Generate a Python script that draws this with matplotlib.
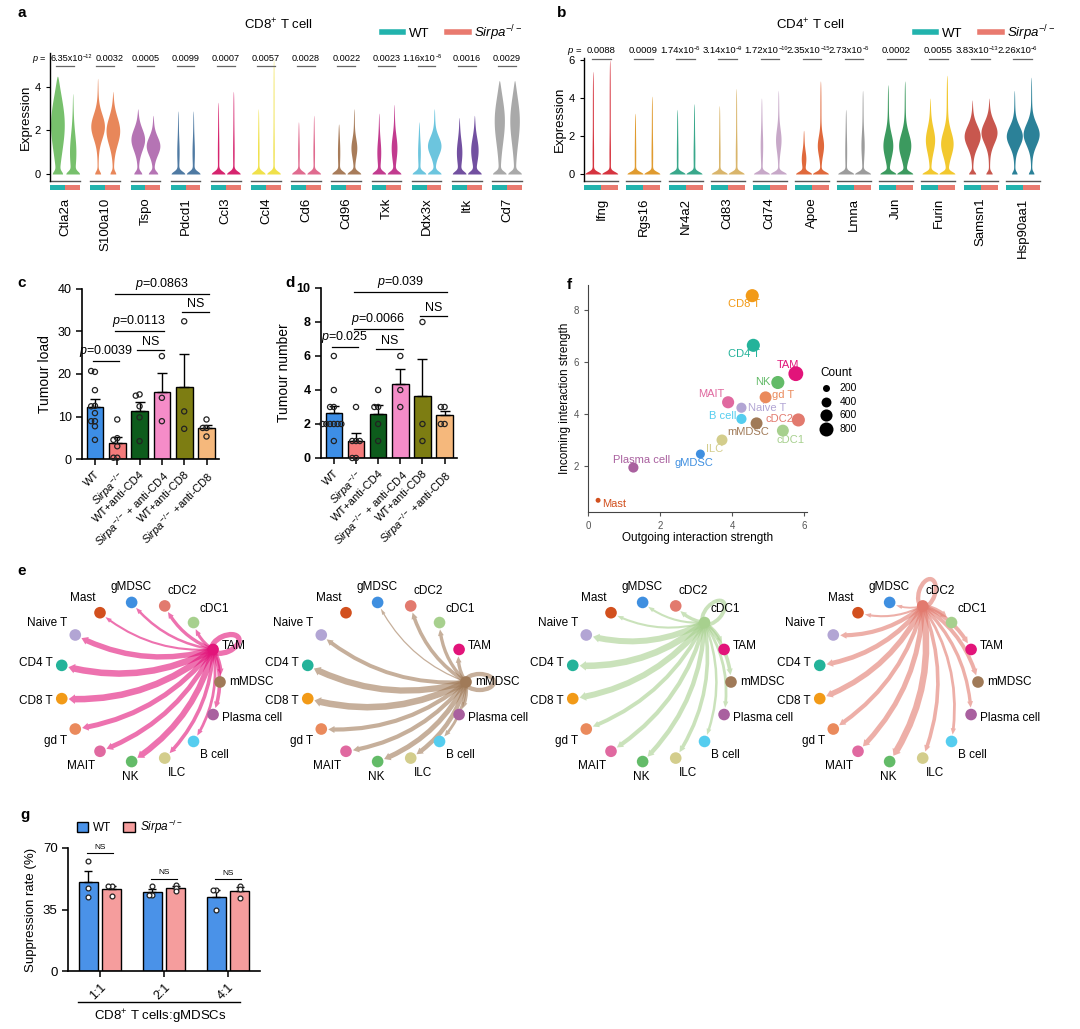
import numpy as np
import matplotlib
matplotlib.use('Agg')
import matplotlib.pyplot as plt
from matplotlib.patches import Rectangle, FancyArrowPatch, Ellipse, Patch
from matplotlib.lines import Line2D

plt.rcParams['font.family'] = ['Liberation Sans', 'DejaVu Sans']
plt.rcParams['mathtext.fontset'] = 'custom'
plt.rcParams['mathtext.rm'] = 'Liberation Sans'
plt.rcParams['mathtext.it'] = 'Liberation Sans:italic'
plt.rcParams['mathtext.bf'] = 'Liberation Sans:bold'
plt.rcParams['axes.linewidth'] = 1.0

# ---------------- data ----------------
teal, salm = '#22b3ad', '#e97a6f'
KO = r'$\mathit{Sirpa}^{-/-}$'

# panel a (CD8+ T cell)
genes_a = ['Ctla2a', 'S100a10', 'Tspo', 'Pdcd1', 'Ccl3', 'Ccl4', 'Cd6', 'Cd96', 'Txk', 'Ddx3x', 'Itk', 'Cd7']
pvals_a = ['6.35x10^-12', '0.0032', '0.0005', '0.0099', '0.0007', '0.0057', '0.0028', '0.0022',
           '0.0023', '1.16x10^-5', '0.0016', '0.0029']
colors_a = ['#77c06c', '#e8875a', '#b574b4', '#4f7aa3', '#d6246e', '#f0e14a', '#e06b8f', '#a87c5a',
            '#c23b8f', '#6cc5de', '#7250a0', '#a9a9a9']
# violin: (max, base width, bulge width, bulge centre, bulge spread)
wt_a = [(4.5, 0.5, 0.95, 2.3, 1.8), (4.4, 0.35, 0.9, 2.2, 0.8), (3.0, 0.4, 0.75, 1.6, 0.7),
        (2.9, 1.0, 0.12, 1.0, 0.8), (3.3, 1.0, 0.05, 1.0, 1.0), (3.0, 1.0, 0.05, 1.0, 1.0),
        (2.4, 1.0, 0.06, 1.0, 0.8), (2.3, 0.9, 0.1, 1.0, 0.8), (2.8, 1.0, 0.25, 1.0, 0.8),
        (2.4, 1.0, 0.15, 1.0, 0.8), (2.6, 0.9, 0.35, 1.0, 0.8), (4.3, 0.9, 0.7, 2.5, 1.5)]
ko_a = [(3.7, 0.9, 0.5, 1.0, 1.2), (3.8, 0.35, 0.95, 2.0, 0.9), (2.7, 0.45, 0.7, 1.3, 0.6),
        (2.9, 1.0, 0.12, 1.0, 0.8), (3.8, 1.0, 0.05, 1.0, 1.0), (5.3, 1.0, 0.04, 1.0, 1.0),
        (2.7, 1.0, 0.06, 1.0, 0.8), (3.0, 0.9, 0.35, 1.2, 0.6), (3.2, 1.0, 0.4, 1.2, 0.8),
        (3.0, 0.7, 0.7, 1.3, 0.6), (2.7, 0.9, 0.5, 1.1, 0.8), (4.3, 0.9, 0.65, 2.5, 1.5)]

# panel b (CD4+ T cell)
genes_b = ['Ifng', 'Rgs16', 'Nr4a2', 'Cd83', 'Cd74', 'Apoe', 'Lmna', 'Jun', 'Furin', 'Samsn1', 'Hsp90aa1']
pvals_b = ['0.0088', '0.0009', '1.74x10^-5', '3.14x10^-9', '1.72x10^-10', '2.35x10^-15',
           '2.73x10^-5', '0.0002', '0.0055', '3.83x10^-13', '2.26x10^-6']
colors_b = ['#d6343f', '#e09b2f', '#39a88b', '#d9b56b', '#c7a8c8', '#e0693c', '#9c9c9c', '#3c9a5f',
            '#f2c82e', '#c8574e', '#2b8198']
wt_b = [(5.4, 1.0, 0.03, 1.0, 1.0), (3.2, 1.0, 0.03, 1.0, 1.0), (3.4, 1.0, 0.04, 1.0, 1.0),
        (3.6, 1.0, 0.04, 1.0, 1.0), (4.0, 1.0, 0.1, 1.5, 1.0), (2.3, 1.0, 0.25, 0.8, 0.6),
        (3.4, 1.0, 0.06, 1.2, 1.0), (4.7, 0.9, 0.55, 1.5, 0.9), (4.0, 0.9, 0.5, 1.8, 0.9),
        (3.9, 0.4, 1.0, 2.0, 0.8), (4.4, 0.3, 1.0, 2.0, 0.75)]
ko_b = [(6.0, 1.0, 0.03, 1.0, 1.0), (4.1, 1.0, 0.04, 1.0, 1.0), (3.7, 1.0, 0.05, 1.0, 1.0),
        (4.5, 1.0, 0.05, 1.0, 1.0), (4.4, 1.0, 0.3, 1.8, 0.8), (4.9, 1.0, 0.35, 1.5, 0.7),
        (4.4, 1.0, 0.15, 1.5, 0.9), (4.9, 0.9, 0.7, 1.5, 0.9), (5.2, 0.7, 0.55, 1.6, 0.9),
        (4.0, 0.35, 1.0, 2.2, 0.8), (5.1, 0.3, 1.0, 2.1, 0.8)]

# panels c, d
groups_cd = ['WT', KO, 'WT+anti-CD4', KO + ' + anti-CD4', 'WT+anti-CD8', KO + ' +anti-CD8']
colors_cd = ['#3d8ee6', '#f47b7b', '#0d5c1c', '#f58cc8', '#7d7d12', '#f5b87c']
load = [[20.5, 20.7, 16.2, 12.5, 12.4, 10.8, 8.9, 8.9, 7.7, 4.5],
        [9.3, 4.9, 4.5, 3.0, 0.3, 0.3],
        [15.2, 14.9, 12.4, 9.8, 4.2],
        [24.2, 14.4, 8.9],
        [32.4, 11.2, 7.1],
        [9.3, 7.3, 7.3, 5.3]]
number = [[6, 4, 3, 3, 2, 2, 2, 2, 2, 2, 1],
          [3, 1, 1, 1, 0, 0],
          [4, 3, 3, 2, 1],
          [6, 4, 3],
          [8, 2, 1],
          [3, 3, 2, 2]]
sig_c = [('p=0.0039', 0, 1, 23.0), ('NS', 2, 3, 25.6), ('p=0.0113', 1, 3, 30.0),
         ('NS', 4, 5, 34.5), ('p=0.0863', 1, 5, 38.9)]
sig_d = [('p=0.025', 0, 1, 6.55), ('NS', 2, 3, 6.4), ('p=0.0066', 1, 3, 7.6),
         ('NS', 4, 5, 8.35), ('p=0.039', 1, 5, 9.75)]

# panels e, f
cells = ['mMDSC', 'TAM', 'cDC1', 'cDC2', 'gMDSC', 'Mast', 'Naive T', 'CD4 T', 'CD8 T', 'gd T',
         'MAIT', 'NK', 'ILC', 'B cell', 'Plasma cell']
cell_colors = ['#a07a58', '#e2147a', '#a7d08e', '#e27a6e', '#3f8fe0', '#d2501e', '#b2a5d4', '#24b39a',
               '#f29a17', '#ea8a5c', '#e069a0', '#63bb68', '#d3cd8c', '#55cdef', '#a9609f']
outgoing = [4.68, 5.77, 5.41, 5.84, 3.12, 0.28, 4.26, 4.59, 4.56, 4.93, 3.89, 5.27, 3.72, 4.26, 1.26]
incoming = [3.64, 5.55, 3.36, 3.77, 2.46, 0.68, 4.24, 6.64, 8.55, 4.64, 4.45, 5.21, 3.00, 3.81, 1.94]
counts = [580, 900, 580, 700, 330, 100, 420, 700, 700, 580, 600, 700, 490, 420, 420]
sources = ['TAM', 'mMDSC', 'cDC1', 'cDC2']
weights = [
    [0.5, 0.8, 0.4, 0.45, 0.3, 0.25, 0.8, 1.0, 1.0, 0.75, 0.7, 0.9, 0.5, 0.35, 0.5],
    [0.6, 0.45, 0.45, 0.5, 0.1, 0.0, 0.55, 0.95, 1.0, 0.6, 0.6, 0.75, 0.65, 0.35, 0.35],
    [0.5, 0.4, 0.5, 0.45, 0.25, 0.25, 0.9, 1.0, 0.9, 0.55, 0.6, 0.65, 0.5, 0.3, 0.35],
    [0.55, 0.55, 0.6, 0.6, 0.2, 0.25, 0.6, 0.7, 0.8, 0.6, 0.75, 1.0, 0.5, 0.35, 0.45],
]

# panel g
ratios = ['1:1', '2:1', '4:1']
supp_wt = [[62.6, 47.4, 42.1], [48.4, 43.1, 43.5], [45.9, 45.9, 34.5]]
supp_ko = [[48.4, 48.4, 42.5], [48.8, 47.2, 45.3], [48.4, 46.9, 41.6]]

# ---------------- figure ----------------
W, H = 1080, 1029
fig = plt.figure(figsize=(W / 100, H / 100), dpi=100)


def box(x0, y0, x1, y1):
    return [x0 / W, 1 - y1 / H, (x1 - x0) / W, (y1 - y0) / H]


def fxy(x, y):
    return x / W, 1 - y / H


def violin_shape(prm, hw):
    top, base, bulge, mid, spread = prm
    y = np.linspace(0, top, 200)
    w = base * np.exp(-(y / 0.18) ** 2) + bulge * np.exp(-((y - mid) / spread) ** 2) + 0.07
    w = w * np.sqrt(np.clip(1 - (y / top) ** 6, 0, 1))
    return y, w / w.max() * hw


def pval_text(ax, x, y, s, fs, ppu, joint):
    if '^' in s:
        m, e = s.split('^')
        ax.text(x + joint, y, m, ha='right', va='baseline', fontsize=fs, clip_on=False)
        ax.text(x + joint, y + 3.5 / ppu, e.replace('-', '\u2212'), ha='left', va='baseline',
                fontsize=fs * 0.6, clip_on=False)
    else:
        ax.text(x, y, s, ha='center', va='baseline', fontsize=fs, clip_on=False)


def violin_panel(rect, zero_px, ppu, genes, pvals, colors, wt, ko, yticks, half, hw, off, base_px, line_px,
                 fs, joint):
    ax = fig.add_axes(box(*rect))
    n = len(genes)
    ylim = (-(rect[3] - zero_px) / ppu, (zero_px - rect[1]) / ppu)
    ax.set_xlim(-half, n - 1 + half)
    ax.set_ylim(*ylim)
    for i in range(n):
        for xc, prm in [(i - off, wt[i]), (i + off, ko[i])]:
            y, w = violin_shape(prm, hw)
            ax.fill_betweenx(y, xc - w, xc + w, color=colors[i], lw=0)
        ax.plot([i - half * 0.98, i + half * 0.98], [ylim[0], ylim[0]], color='#555555', lw=1.0, clip_on=False)
        y0 = ylim[0] - 4 / ppu
        ax.add_patch(Rectangle((i - half * 0.98, y0 - 5 / ppu), half * 0.98, 5 / ppu, color=teal, clip_on=False, lw=0))
        ax.add_patch(Rectangle((i, y0 - 5 / ppu), half * 0.98, 5 / ppu, color=salm, clip_on=False, lw=0))
        pval_text(ax, i, (zero_px - base_px) / ppu, pvals[i], fs, ppu, joint)
        yl = (zero_px - line_px) / ppu
        ax.plot([i - 0.22, i + 0.22], [yl, yl], color='#666666', lw=0.9, clip_on=False)
    for s in ['top', 'right', 'bottom']:
        ax.spines[s].set_visible(False)
    ax.set_yticks(yticks)
    ax.tick_params(axis='y', labelsize=8, length=3)
    ax.set_xticks(range(n))
    ax.set_xticklabels(genes, rotation=90, fontsize=9.5)
    ax.tick_params(axis='x', length=0, pad=12)
    ax.set_ylabel('Expression', fontsize=9.5, labelpad=2)
    return ax


ax_a = violin_panel((50, 53, 522, 181), 174, 21.75, genes_a, pvals_a, colors_a, wt_a, ko_a, [0, 2, 4],
                    0.375, 0.17, 0.19, 61, 66, 6.6, 0.22)
# first p-value sits left-aligned next to the axis, second nudged right
for t in ax_a.texts[:2]:
    t.set_x(0.45)
ax_a.texts[2].set_x(1.1)
ax_a.text(-0.45, (174 - 61) / 21.75, r'$\mathit{p}$ =', ha='right', va='baseline', fontsize=6.6, clip_on=False)

ax_b = violin_panel((584, 58, 1040, 181), 174, 19.0, genes_b, pvals_b, colors_b, wt_b, ko_b, [0, 2, 4, 6],
                    0.41, 0.19, 0.2, 53.5, 59.5, 6.8, 0.2)
ax_b.text(-0.45, (174 - 53.5) / 19.0, r'$\mathit{p}$ =', ha='right', va='baseline', fontsize=6.8, clip_on=False)

fig.text(*fxy(278, 25), r'CD8$^{+}$ T cell', ha='center', va='center', fontsize=9.5)
fig.text(*fxy(810, 25), r'CD4$^{+}$ T cell', ha='center', va='center', fontsize=9.5)
for cx in [452, 985]:
    fig.legend(handles=[Line2D([], [], color=teal, lw=4), Line2D([], [], color=salm, lw=4)],
               labels=['WT', KO], loc='center', bbox_to_anchor=fxy(cx, 33), ncol=2, frameon=False,
               fontsize=9.5, handlelength=1.6, columnspacing=1.4, handletextpad=0.4)


# ---------------- bar panels c, d ----------------
def swarm(vals, dy, dx):
    xs = []
    for k, v in enumerate(vals):
        near = sum(1 for u in vals[:k] if abs(u - v) < dy)
        xs.append(dx * [0, -1, 1, -2, 2, -3, 3][near % 7])
    return np.array(xs)


def bar_panel(rect, data, ylim, yticks, ylabel, sig, dy, bold=False):
    ax = fig.add_axes(box(*rect))
    x = np.arange(len(data))
    means = [np.mean(d) for d in data]
    sems = [np.std(d, ddof=1) / np.sqrt(len(d)) for d in data]
    ax.bar(x, means, width=0.75, color=colors_cd, edgecolor='black', lw=1.0, zorder=2)
    ax.errorbar(x, means, yerr=[np.zeros(len(x)), sems], fmt='none', ecolor='black', elinewidth=1.0,
                capsize=3.5, capthick=1.0, zorder=3)
    for i, d in enumerate(data):
        ax.scatter(i + swarm(d, dy, 0.17), d, s=14, facecolor='none', edgecolor='#222222', lw=0.9, zorder=4,
                   clip_on=False)
    for lab, i0, i1, yy in sig:
        ax.plot([i0 - 0.1, i1 + 0.1], [yy, yy], color='black', lw=0.9, clip_on=False)
        txt = lab.replace('p=', r'$\mathit{p}$=')
        ax.text((i0 + i1) / 2, yy + (ylim[1] - ylim[0]) * 0.012, txt, ha='center', va='bottom', fontsize=9,
                clip_on=False)
    ax.set_xlim(-0.58, 5.56)
    ax.set_ylim(*ylim)
    ax.set_yticks(yticks)
    for s in ['top', 'right']:
        ax.spines[s].set_visible(False)
    ax.spines['left'].set_linewidth(1.2)
    ax.spines['bottom'].set_linewidth(1.2)
    ax.tick_params(axis='y', labelsize=9, length=4, width=1.1)
    ax.tick_params(axis='x', length=4, width=1.1)
    ax.set_xticks(x)
    ax.set_xticklabels(groups_cd, rotation=45, ha='right', rotation_mode='anchor', fontsize=8)
    if bold:
        for t in ax.get_yticklabels():
            t.set_fontweight('bold')
    ax.set_ylabel(ylabel, fontsize=10)
    return ax


bar_panel((82, 289, 219, 459), load, (0, 40), [0, 10, 20, 30, 40], 'Tumour load', sig_c, 1.2)
bar_panel((321, 288, 457, 458), number, (0, 10), [0, 2, 4, 6, 8, 10], 'Tumour number', sig_d, 0.3, bold=True)

# ---------------- panel f ----------------
ax_f = fig.add_axes(box(588, 285, 807, 512))
lab_off = {'CD8 T': (-0.23, -0.32), 'CD4 T': (-0.25, -0.35), 'TAM': (-0.22, 0.32), 'NK': (-0.43, 0.03),
           'gd T': (0.49, 0.09), 'MAIT': (-0.48, 0.31), 'Naive T': (0.7, -0.02), 'B cell': (-0.51, 0.13),
           'cDC2': (-0.51, 0.04), 'mMDSC': (-0.24, -0.35), 'cDC1': (0.22, -0.35), 'ILC': (-0.21, -0.34),
           'gMDSC': (-0.17, -0.35), 'Plasma cell': (0.23, 0.3), 'Mast': (0.44, -0.16)}
sz = 0.127
ax_f.scatter(outgoing, incoming, s=np.array(counts) * sz, c=cell_colors, lw=0, zorder=3)
for k, c in enumerate(cells):
    dx, dy = lab_off[c]
    ax_f.text(outgoing[k] + dx, incoming[k] + dy, c, color=cell_colors[k], fontsize=8, ha='center',
              va='center', zorder=4)
ax_f.set_xlim(0, 6.08)
ax_f.set_ylim(0.23, 8.96)
ax_f.set_xticks([0, 2, 4, 6])
ax_f.set_yticks([2, 4, 6, 8])
for s in ['top', 'right']:
    ax_f.spines[s].set_visible(False)
for s in ['left', 'bottom']:
    ax_f.spines[s].set_color('#444444')
    ax_f.spines[s].set_linewidth(0.8)
ax_f.tick_params(labelsize=7, colors='#555555', length=3, width=0.8)
ax_f.set_xlabel('Outgoing interaction strength', fontsize=8.5, labelpad=1)
ax_f.set_ylabel('Incoming interaction strength', fontsize=8.5, labelpad=2)
hnd = [ax_f.scatter([], [], s=v * sz, color='black', lw=0) for v in [200, 400, 600, 800]]
fig.legend(hnd, ['200', '400', '600', '800'], title='Count', loc='upper left', bbox_to_anchor=fxy(808, 360),
           frameon=False, fontsize=7.5, title_fontsize=8.5, labelspacing=0.35, handletextpad=0.3,
           borderpad=0.2)

# ---------------- panel e ----------------
ang = np.deg2rad(np.arange(len(cells)) * 24.0)
nx, ny = np.cos(ang), np.sin(ang)
for j, (cx, src) in enumerate(zip([140, 386, 651, 898], sources)):
    ax = fig.add_axes(box(cx - 120, 682 - 120, cx + 120, 682 + 120))
    ax.set_xlim(-1.5, 1.5)
    ax.set_ylim(-1.5, 1.5)
    ax.axis('off')
    s = cells.index(src)
    col = cell_colors[s]
    for k in range(len(cells)):
        w = weights[j][k]
        if w <= 0:
            continue
        if k == s:
            e = Ellipse((nx[k] * 1.17, ny[k] * 1.17), 0.36, 0.2, angle=np.rad2deg(ang[k]), fill=False,
                        edgecolor=col, lw=1 + 3.5 * w, alpha=0.6, zorder=1)
            ax.add_patch(e)
            continue
        tw = 0.05 + 0.42 * w
        arr = FancyArrowPatch((nx[s], ny[s]), (nx[k], ny[k]), connectionstyle='arc3,rad=-0.2',
                              arrowstyle=f'simple,head_length=0.45,head_width={tw * 1.15 + 0.15:.2f},tail_width={tw:.2f}',
                              mutation_scale=10, lw=0, color=col, alpha=0.6, shrinkA=0, shrinkB=5, zorder=1)
        ax.add_patch(arr)
    ax.scatter(nx, ny, s=70, c=cell_colors, lw=0, zorder=3)
    for k, c in enumerate(cells):
        ha = 'left' if nx[k] > 0.2 else ('right' if nx[k] < -0.2 else 'center')
        va = 'bottom' if ny[k] > 0.5 else ('top' if ny[k] < -0.5 else 'center')
        ax.text(nx[k] * 1.12, ny[k] * 1.12, c, ha=ha, va=va, fontsize=8.5, zorder=5, clip_on=False)

# ---------------- panel g ----------------
ax_g = fig.add_axes(box(68, 848, 260, 971))
xg = np.arange(len(ratios))
for vals, dx, cl in [(supp_wt, -0.18, '#4a92e8'), (supp_ko, 0.18, '#f59d9d')]:
    m = [np.mean(v) for v in vals]
    se = [np.std(v, ddof=1) / np.sqrt(len(v)) for v in vals]
    ax_g.bar(xg + dx, m, width=0.3, color=cl, edgecolor='black', lw=1.0, zorder=2)
    ax_g.errorbar(xg + dx, m, yerr=[np.zeros(3), se], fmt='none', ecolor='black', elinewidth=1.0, capsize=3,
                  capthick=1.0, zorder=3)
    for i, v in enumerate(vals):
        ax_g.scatter(xg[i] + dx + swarm(v, 1.5, 0.06), v, s=12, facecolor='white', edgecolor='#222222',
                     lw=0.9, zorder=4)
for i, yy in enumerate([67, 52.6, 52.2]):
    ax_g.plot([i - 0.2, i + 0.2], [yy, yy], color='black', lw=0.8)
    ax_g.text(i, yy + 1.5, 'NS', ha='center', va='bottom', fontsize=6)
ax_g.set_xlim(-0.5, 2.5)
ax_g.set_ylim(0, 70)
ax_g.set_yticks([0, 35, 70])
for s in ['top', 'right']:
    ax_g.spines[s].set_visible(False)
ax_g.spines['left'].set_linewidth(1.2)
ax_g.spines['bottom'].set_linewidth(1.2)
ax_g.tick_params(axis='y', labelsize=9.5, length=4, width=1.1)
ax_g.tick_params(axis='x', length=4, width=1.1)
ax_g.set_xticks(xg)
ax_g.set_xticklabels(ratios, rotation=45, ha='right', rotation_mode='anchor', fontsize=9)
ax_g.set_ylabel('Suppression rate (%)', fontsize=9.5)
fig.legend(handles=[Patch(facecolor='#4a92e8', edgecolor='black'), Patch(facecolor='#f59d9d', edgecolor='black')],
           labels=['WT', KO], loc='center left', bbox_to_anchor=fxy(66, 827), ncol=2, frameon=False,
           fontsize=8.5, handlelength=1.0, handleheight=1.0, columnspacing=1.0, handletextpad=0.4)
fig.add_artist(Line2D([78 / W, 240 / W], [1 - 1002 / H, 1 - 1002 / H], color='black', lw=1.0))
fig.text(*fxy(160, 1017), r'CD8$^{+}$ T cells:gMDSCs', ha='center', va='center', fontsize=9.5)

# panel letters
for lab, xx, yy in [('a', 17, 13), ('b', 557, 13), ('c', 17, 283), ('d', 285, 283), ('f', 567, 285),
                    ('e', 17, 571), ('g', 20, 815)]:
    fig.text(*fxy(xx, yy), lab, fontsize=11, fontweight='bold', ha='left', va='center')

fig.savefig('out.png', dpi=100)
